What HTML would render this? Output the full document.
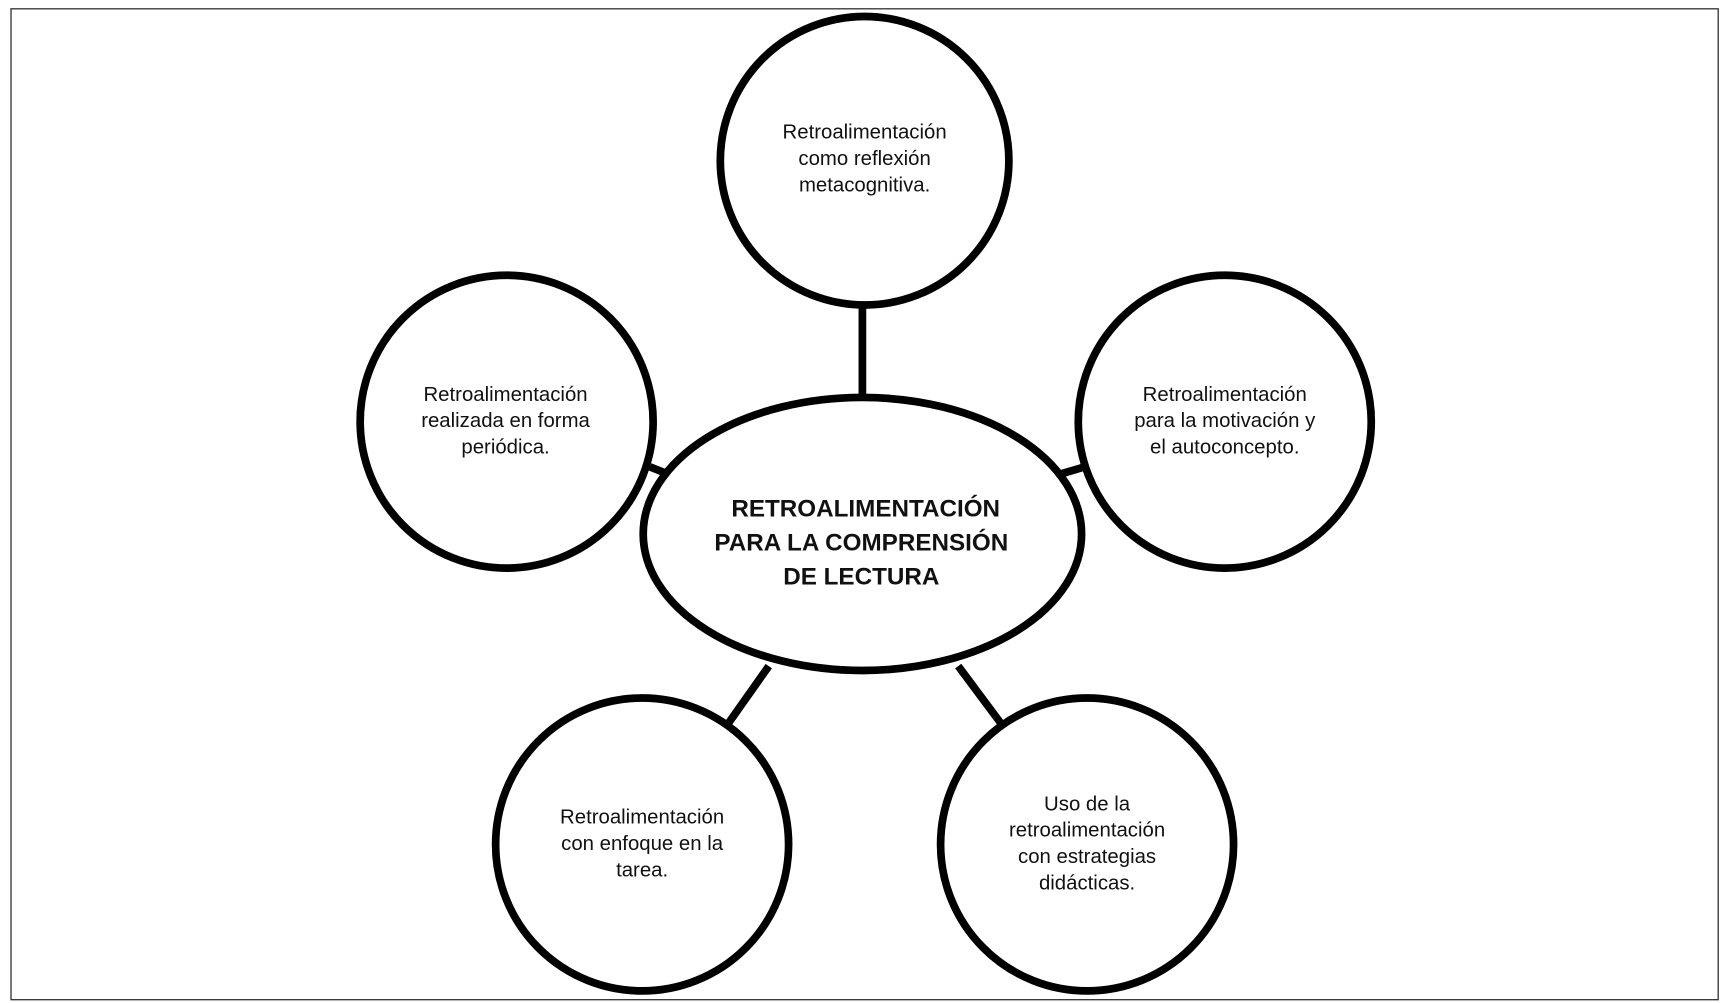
<!DOCTYPE html>
<html><head><meta charset="utf-8"><style>
html,body{margin:0;padding:0;background:#fff;}
svg{display:block;}
text{font-family:"Liberation Sans",sans-serif;fill:#111;}
</style></head><body>
<svg width="1727" height="1003" viewBox="0 0 1568 911" preserveAspectRatio="none">
<rect x="10" y="8" width="1550" height="900" fill="#fff" stroke="#333" stroke-width="1.2"/>
<g stroke="#000" stroke-width="7" fill="none">
<line x1="783" y1="278" x2="783" y2="362"/>
<line x1="590" y1="424" x2="610" y2="432"/>
<line x1="958" y1="432" x2="985" y2="424"/>
<line x1="662" y1="656" x2="698" y2="605"/>
<line x1="870" y1="605" x2="908" y2="656"/>
</g>
<g stroke="#000" stroke-width="7" fill="#fff">
<circle cx="785" cy="146" r="131"/>
<circle cx="460" cy="383" r="133"/>
<circle cx="1112" cy="383" r="133"/>
<circle cx="583" cy="767" r="133"/>
<circle cx="987" cy="767" r="133"/>
<ellipse cx="783" cy="485" rx="199" ry="124"/>
</g>
<g font-size="18.5" text-anchor="middle">
<text x="785" y="126">Retroalimentación</text>
<text x="785" y="150">como reflexión</text>
<text x="785" y="174">metacognitiva.</text>
<text x="459" y="364">Retroalimentación</text>
<text x="459" y="388">realizada en forma</text>
<text x="459" y="412">periódica.</text>
<text x="1112" y="364">Retroalimentación</text>
<text x="1112" y="388">para la motivación y</text>
<text x="1112" y="412">el autoconcepto.</text>
<text x="583" y="748">Retroalimentación</text>
<text x="583" y="772">con enfoque  en la</text>
<text x="583" y="796">tarea.</text>
<text x="987" y="736">Uso de la</text>
<text x="987" y="760">retroalimentación</text>
<text x="987" y="784">con estrategias</text>
<text x="987" y="808">didácticas.</text>
</g>
<g font-size="22" font-weight="bold" text-anchor="middle">
<text x="786" y="469">RETROALIMENTACIÓN</text>
<text x="782" y="500">PARA LA COMPRENSIÓN</text>
<text x="782" y="531">DE LECTURA</text>
</g>
</svg>
</body></html>
